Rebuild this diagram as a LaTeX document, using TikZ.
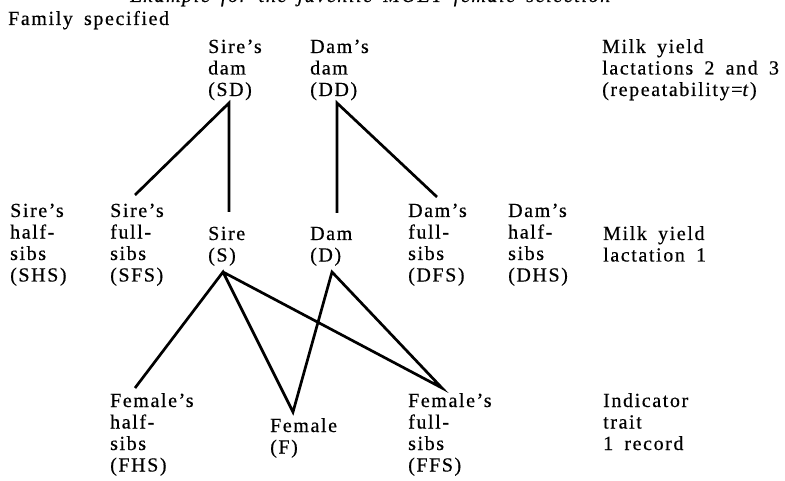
\documentclass[tikz,border=0pt]{standalone}
\usepackage{fontspec}
\setmainfont{Liberation Serif}[LetterSpace=8, WordSpace=1.7, FakeBold=0.5]
\begin{document}
\begin{tikzpicture}[x=1pt,y=-1pt,
  lbl/.style={anchor=base west, inner sep=0pt, align=left, font=\fontsize{20}{21.5}\selectfont},
  conn/.style={line width=2.7pt, line join=miter}]
\useasboundingbox (0,0) rectangle (785,481);
% partly cut-off caption line
\node[lbl, font=\fontsize{20}{21.5}\selectfont\itshape] (cap) at (130,2) {Example for the juvenile MOET female selection};
\node[lbl] (fam) at (8,25) {Family specified};
% row 1 (base = baseline of last line)
\node[lbl] (SD) at (208,96) {Sire's\\dam\\(SD)};
\node[lbl] (DD) at (310,96) {Dam's\\dam\\(DD)};
\node[lbl] (R1) at (602,96) {Milk yield\\lactations 2 and 3\\(repeatability=\textit{t})};
% row 2
\node[lbl] (SHS) at (10,281.5) {Sire's\\half-\\sibs\\(SHS)};
\node[lbl] (SFS) at (110,281.5) {Sire's\\full-\\sibs\\(SFS)};
\node[lbl] (S) at (208,261.5) {Sire\\(S)};
\node[lbl] (D) at (310,261.5) {Dam\\(D)};
\node[lbl] (DFS) at (408,281.5) {Dam's\\full-\\sibs\\(DFS)};
\node[lbl] (DHS) at (508,281.5) {Dam's\\half-\\sibs\\(DHS)};
\node[lbl] (R2) at (603,261.5) {Milk yield\\lactation 1};
% row 3
\node[lbl] (FHS) at (110,471.5) {Female's\\half-\\sibs\\(FHS)};
\node[lbl] (F) at (270,453.5) {Female\\(F)};
\node[lbl] (FFS) at (408,471.5) {Female's\\full-\\sibs\\(FFS)};
\node[lbl] (R3) at (603,450) {Indicator\\trait\\1 record};
% connectors
\draw[conn] ([xshift=25pt,yshift=86.5pt]SFS.base west) -- ([xshift=21pt,yshift=-7pt]SD.base west) -- ([xshift=21pt,yshift=49.5pt]S.base west);
\draw[conn] ([xshift=27pt,yshift=48.5pt]D.base west) -- ([xshift=27pt,yshift=-7pt]DD.base west) -- ([xshift=29pt,yshift=84.5pt]DFS.base west);
\draw[conn] ([xshift=25pt,yshift=83.5pt]FHS.base west) -- ([xshift=15pt,yshift=-10.5pt]S.base west) -- ([xshift=23pt,yshift=41.5pt]F.base west) -- ([xshift=22pt,yshift=-10.5pt]D.base west) -- ([xshift=34pt,yshift=83.5pt]FFS.base west) -- ([xshift=15pt,yshift=-10.5pt]S.base west);
\end{tikzpicture}
\end{document}
